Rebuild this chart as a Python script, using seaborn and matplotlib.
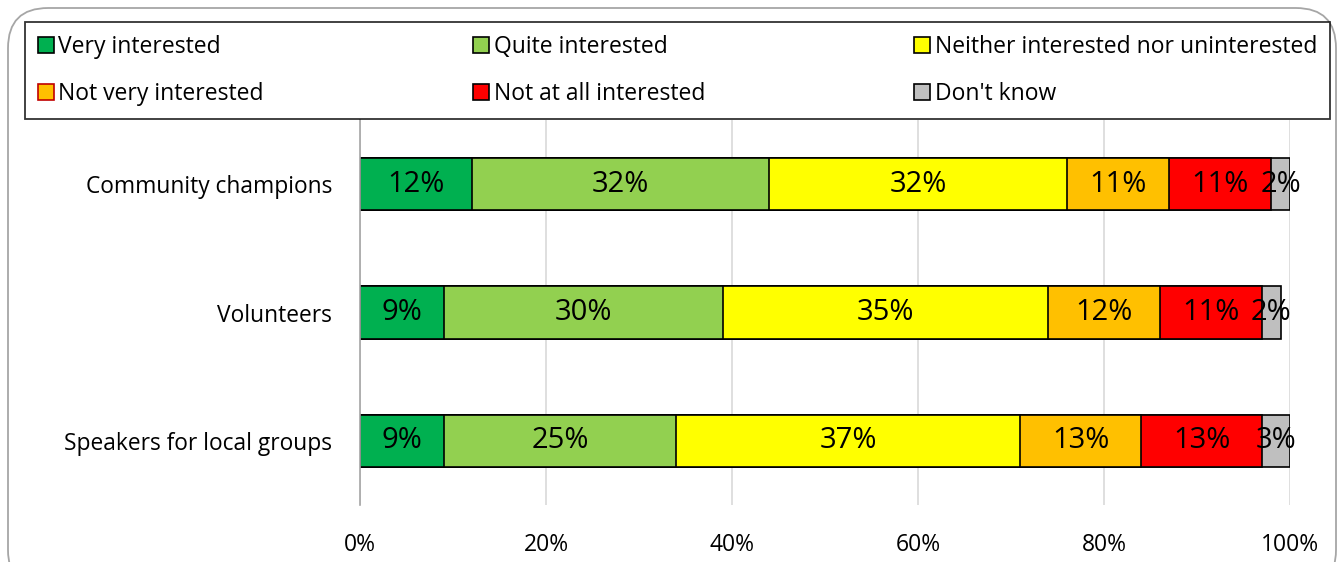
import numpy as np
import pandas as pd
import matplotlib
matplotlib.use("Agg")
import matplotlib.pyplot as plt
import seaborn as sns
from matplotlib.patches import Patch, FancyBboxPatch

# Datos
grupos = ["Community champions", "Volunteers", "Speakers for local groups"]
respuestas = ["Very interested", "Quite interested", "Neither interested nor uninterested",
              "Not very interested", "Not at all interested", "Don't know"]
muy = [12, 9, 9]
bastante = [32, 30, 25]
neutral = [32, 35, 37]
poco = [11, 12, 13]
nada = [11, 11, 13]
no_sabe = [2, 2, 3]
ticks = [0, 20, 40, 60, 80, 100]

colores = ["#00B050", "#92D050", "#FFFF00", "#FFC000", "#FF0000", "#BFBFBF"]
bordes = ["black", "black", "black", "#C00000", "black", "black"]

sns.set_theme(style="white")
plt.rcParams['font.family'] = ['Open Sans', 'DejaVu Sans']
plt.rcParams['text.color'] = 'black'
plt.rcParams['xtick.color'] = 'black'
plt.rcParams['ytick.color'] = 'black'

valores = np.array([muy, bastante, neutral, poco, nada, no_sabe], dtype=float)
acumulado = valores.cumsum(axis=0)

fig = plt.figure(figsize=(13.39, 5.62), dpi=100)
ax = fig.add_axes([360 / 1339, 1 - 505 / 562, 930 / 1339, 385 / 562])

# Barras apiladas: se dibuja de la suma total hacia atras
for i in range(len(respuestas) - 1, -1, -1):
    df = pd.DataFrame({"grupo": grupos, "valor": acumulado[i]})
    sns.barplot(data=df, x="valor", y="grupo", orient="h", color=colores[i],
                saturation=1, width=0.41, edgecolor="black", linewidth=1.2, ax=ax)

# Etiquetas dentro de las barras
for i in range(len(respuestas)):
    for j in range(len(grupos)):
        centro = acumulado[i, j] - valores[i, j] / 2
        ax.text(centro, j, f"{int(valores[i, j])}%", ha="center", va="center",
                fontsize=21, color="black")

ax.set_xlim(0, 100)
ax.set_ylim(2.5, -0.5)
ax.set_xticks(ticks)
ax.set_xticklabels([f"{t}%" for t in ticks], fontsize=16.5)
ax.tick_params(axis="x", length=0, pad=20)
ax.tick_params(axis="y", length=0, pad=20, labelsize=16.4)
ax.set_xlabel("")
ax.set_ylabel("")
ax.xaxis.grid(True, color="#D9D9D9", linewidth=1.2)
ax.set_axisbelow(True)
for lado in ["top", "right", "bottom"]:
    ax.spines[lado].set_visible(False)
ax.spines["left"].set_color("#A6A6A6")
ax.spines["left"].set_linewidth(1.2)

# Leyenda (orden por filas)
handles = [Patch(facecolor=colores[i], edgecolor=bordes[i], linewidth=1.2, label=respuestas[i])
           for i in range(len(respuestas))]
orden = [0, 3, 1, 4, 2, 5]
leg = fig.legend([handles[k] for k in orden], [respuestas[k] for k in orden],
                 loc="upper left", bbox_to_anchor=(25 / 1339, 1 - 22 / 562, 1305 / 1339, 0),
                 mode="expand", ncol=3, fontsize=16.5, frameon=True, fancybox=False,
                 handlelength=0.7, handleheight=0.7, handletextpad=0.2,
                 borderaxespad=0, labelspacing=1.02, borderpad=0.55)
leg.get_frame().set_edgecolor("black")
leg.get_frame().set_linewidth(1.3)

# Borde exterior redondeado
marco = FancyBboxPatch((8 / 1339, -0.05), 1328 / 1339, 1.05 - 8 / 562,
                       boxstyle="round,pad=0,rounding_size=0.03", transform=fig.transFigure,
                       facecolor="none", edgecolor="#A6A6A6", linewidth=1.3,
                       mutation_aspect=1339 / 562)
fig.patches.append(marco)

fig.savefig("out.png", dpi=100)
